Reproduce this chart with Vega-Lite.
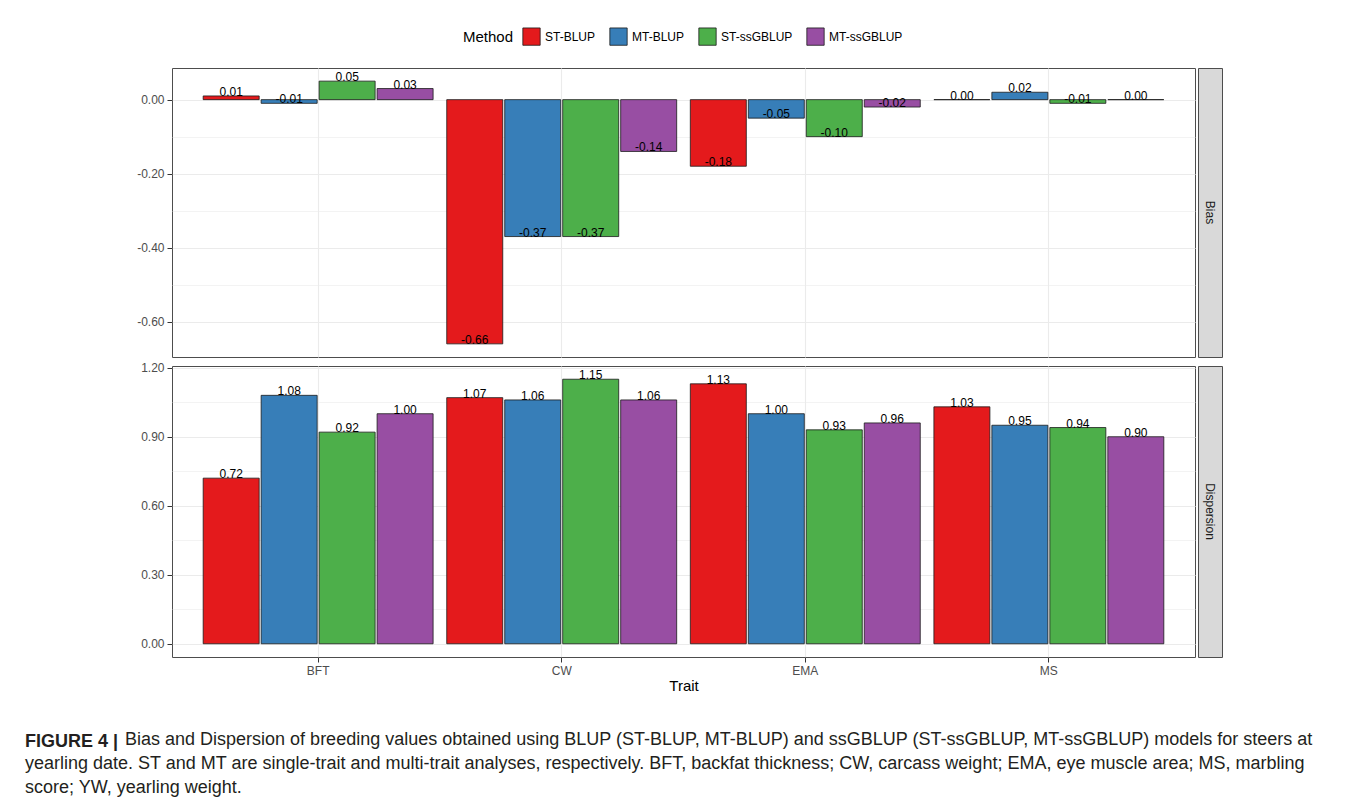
{
  "$schema": "https://vega.github.io/schema/vega-lite/v6.json",
  "padding": {"left": 25, "top": 27, "right": 10, "bottom": 10},
  "background": "white",
  "title": {
    "text": "FIGURE 4 |",
    "subtitle": ["\u200b\u00a0\u00a0\u00a0\u00a0\u00a0\u00a0\u00a0\u00a0\u00a0\u00a0\u00a0\u00a0\u00a0\u00a0\u00a0\u00a0\u00a0\u00a0\u00a0\u00a0Bias and Dispersion of breeding values obtained using BLUP (ST-BLUP, MT-BLUP) and ssGBLUP (ST-ssGBLUP, MT-ssGBLUP) models for steers at", "yearling date. ST and MT are single-trait and multi-trait analyses, respectively. BFT, backfat thickness; CW, carcass weight; EMA, eye muscle area; MS, marbling", "score; YW, yearling weight."],
    "orient": "bottom", "anchor": "start", "frame": "group", "dx": -147, "offset": 39,
    "font": "Liberation Sans", "fontSize": 18, "fontWeight": "bold", "color": "#231f20", "lineHeight": 24,
    "subtitleFont": "Liberation Sans", "subtitleFontSize": 18, "subtitleFontWeight": "normal", "subtitleColor": "#231f20", "subtitleLineHeight": 24, "subtitlePadding": -20
  },
  "datasets": {
    "d": [
      {"Trait": "BFT", "Method": "ST-BLUP", "Metric": "Bias", "Value": 0.01},
      {"Trait": "BFT", "Method": "MT-BLUP", "Metric": "Bias", "Value": -0.01},
      {"Trait": "BFT", "Method": "ST-ssGBLUP", "Metric": "Bias", "Value": 0.05},
      {"Trait": "BFT", "Method": "MT-ssGBLUP", "Metric": "Bias", "Value": 0.03},
      {"Trait": "CW", "Method": "ST-BLUP", "Metric": "Bias", "Value": -0.66},
      {"Trait": "CW", "Method": "MT-BLUP", "Metric": "Bias", "Value": -0.37},
      {"Trait": "CW", "Method": "ST-ssGBLUP", "Metric": "Bias", "Value": -0.37},
      {"Trait": "CW", "Method": "MT-ssGBLUP", "Metric": "Bias", "Value": -0.14},
      {"Trait": "EMA", "Method": "ST-BLUP", "Metric": "Bias", "Value": -0.18},
      {"Trait": "EMA", "Method": "MT-BLUP", "Metric": "Bias", "Value": -0.05},
      {"Trait": "EMA", "Method": "ST-ssGBLUP", "Metric": "Bias", "Value": -0.10},
      {"Trait": "EMA", "Method": "MT-ssGBLUP", "Metric": "Bias", "Value": -0.02},
      {"Trait": "MS", "Method": "ST-BLUP", "Metric": "Bias", "Value": 0.00},
      {"Trait": "MS", "Method": "MT-BLUP", "Metric": "Bias", "Value": 0.02},
      {"Trait": "MS", "Method": "ST-ssGBLUP", "Metric": "Bias", "Value": -0.01},
      {"Trait": "MS", "Method": "MT-ssGBLUP", "Metric": "Bias", "Value": 0.00},
      {"Trait": "BFT", "Method": "ST-BLUP", "Metric": "Dispersion", "Value": 0.72},
      {"Trait": "BFT", "Method": "MT-BLUP", "Metric": "Dispersion", "Value": 1.08},
      {"Trait": "BFT", "Method": "ST-ssGBLUP", "Metric": "Dispersion", "Value": 0.92},
      {"Trait": "BFT", "Method": "MT-ssGBLUP", "Metric": "Dispersion", "Value": 1.00},
      {"Trait": "CW", "Method": "ST-BLUP", "Metric": "Dispersion", "Value": 1.07},
      {"Trait": "CW", "Method": "MT-BLUP", "Metric": "Dispersion", "Value": 1.06},
      {"Trait": "CW", "Method": "ST-ssGBLUP", "Metric": "Dispersion", "Value": 1.15},
      {"Trait": "CW", "Method": "MT-ssGBLUP", "Metric": "Dispersion", "Value": 1.06},
      {"Trait": "EMA", "Method": "ST-BLUP", "Metric": "Dispersion", "Value": 1.13},
      {"Trait": "EMA", "Method": "MT-BLUP", "Metric": "Dispersion", "Value": 1.00},
      {"Trait": "EMA", "Method": "ST-ssGBLUP", "Metric": "Dispersion", "Value": 0.93},
      {"Trait": "EMA", "Method": "MT-ssGBLUP", "Metric": "Dispersion", "Value": 0.96},
      {"Trait": "MS", "Method": "ST-BLUP", "Metric": "Dispersion", "Value": 1.03},
      {"Trait": "MS", "Method": "MT-BLUP", "Metric": "Dispersion", "Value": 0.95},
      {"Trait": "MS", "Method": "ST-ssGBLUP", "Metric": "Dispersion", "Value": 0.94},
      {"Trait": "MS", "Method": "MT-ssGBLUP", "Metric": "Dispersion", "Value": 0.90}
    ]
  },
  "spacing": 3,
  "resolve": {"scale": {"x": "independent", "y": "independent"}},
  "vconcat": [
    {
      "spacing": 1,
      "hconcat": [
        {
          "width": 1023, "height": 289,
          "data": {"name": "d"},
          "transform": [{"filter": "datum.Metric === 'Bias'"}],
          "encoding": {
            "x": {"field": "Trait", "type": "nominal", "sort": ["BFT", "CW", "EMA", "MS"],
                  "scale": {"paddingInner": 0.056, "paddingOuter": 0.128},
                  "axis": {"labels": false, "ticks": false, "domain": false, "title": null, "grid": true, "bandPosition": 0.5, "gridColor": "#ebebeb", "gridWidth": 1.1}},
            "xOffset": {"field": "Method", "type": "nominal", "sort": ["ST-BLUP", "MT-BLUP", "ST-ssGBLUP", "MT-ssGBLUP"],
                        "scale": {"paddingInner": 0.034, "paddingOuter": 0}},
            "y": {"field": "Value", "type": "quantitative",
                  "scale": {"domain": [-0.6955, 0.0855], "nice": false, "zero": false},
                  "axis": {"title": null, "values": [-0.6, -0.5, -0.4, -0.3, -0.2, -0.1, 0],
                           "labelExpr": "abs(datum.value*5 - round(datum.value*5)) > 0.01 ? '' : replace(format(datum.value, '.2f'), '\u2212', '-')",
                           "gridColor": "#ebebeb",
                           "gridWidth": {"condition": {"test": "abs(datum.value*5 - round(datum.value*5)) > 0.01", "value": 0.6}, "value": 1.1},
                           "tickOpacity": {"condition": {"test": "abs(datum.value*5 - round(datum.value*5)) > 0.01", "value": 0}, "value": 1}}}
          },
          "layer": [
            {"mark": {"type": "bar", "stroke": "#1a1a1a", "strokeWidth": 0.8},
             "encoding": {"y2": {"datum": 0},
                          "color": {"field": "Method", "type": "nominal", "sort": ["ST-BLUP", "MT-BLUP", "ST-ssGBLUP", "MT-ssGBLUP"],
                                    "scale": {"domain": ["ST-BLUP", "MT-BLUP", "ST-ssGBLUP", "MT-ssGBLUP"], "range": ["#E41A1C", "#377EB8", "#4DAF4A", "#984EA3"]},
                                    "legend": {"orient": "none", "direction": "horizontal", "legendX": 291, "legendY": -41, "title": "Method", "titleOrient": "left"}}}},
            {"mark": {"type": "text", "baseline": "alphabetic", "fontSize": 12, "color": "black", "font": "Liberation Sans",
                      "text": {"expr": "replace(format(datum.Value, '.2f'), '\u2212', '-')"}}}
          ]
        },
        {
          "width": 24, "height": 289,
          "data": {"values": [{"label": "Bias"}]},
          "view": {"fill": "#d9d9d9", "stroke": "#4d4d4d"},
          "mark": {"type": "text", "angle": 90, "fontSize": 12, "color": "#1a1a1a", "font": "Liberation Sans"},
          "encoding": {"text": {"field": "label", "type": "nominal"}}
        }
      ]
    },
    {
      "spacing": 1,
      "hconcat": [
        {
          "width": 1023, "height": 291,
          "data": {"name": "d"},
          "transform": [{"filter": "datum.Metric === 'Dispersion'"}],
          "encoding": {
            "x": {"field": "Trait", "type": "nominal", "sort": ["BFT", "CW", "EMA", "MS"],
                  "scale": {"paddingInner": 0.056, "paddingOuter": 0.128},
                  "axis": {"title": "Trait", "labelAngle": 0, "domain": false, "grid": true, "bandPosition": 0.5, "gridColor": "#ebebeb", "gridWidth": 1.1, "titlePadding": 2}},
            "xOffset": {"field": "Method", "type": "nominal", "sort": ["ST-BLUP", "MT-BLUP", "ST-ssGBLUP", "MT-ssGBLUP"],
                        "scale": {"paddingInner": 0.034, "paddingOuter": 0}},
            "y": {"field": "Value", "type": "quantitative",
                  "scale": {"domain": [-0.0575, 1.2075], "nice": false, "zero": false},
                  "axis": {"title": null, "values": [0, 0.15, 0.3, 0.45, 0.6, 0.75, 0.9, 1.05, 1.2],
                           "labelExpr": "abs(datum.value/0.3 - round(datum.value/0.3)) > 0.01 ? '' : format(datum.value, '.2f')",
                           "gridColor": "#ebebeb",
                           "gridWidth": {"condition": {"test": "abs(datum.value/0.3 - round(datum.value/0.3)) > 0.01", "value": 0.6}, "value": 1.1},
                           "tickOpacity": {"condition": {"test": "abs(datum.value/0.3 - round(datum.value/0.3)) > 0.01", "value": 0}, "value": 1}}}
          },
          "layer": [
            {"mark": {"type": "bar", "stroke": "#1a1a1a", "strokeWidth": 0.8},
             "encoding": {"y2": {"datum": 0},
                          "color": {"field": "Method", "type": "nominal", "sort": ["ST-BLUP", "MT-BLUP", "ST-ssGBLUP", "MT-ssGBLUP"]}}},
            {"mark": {"type": "text", "baseline": "alphabetic", "fontSize": 12, "color": "black", "font": "Liberation Sans",
                      "text": {"expr": "format(datum.Value, '.2f')"}}}
          ]
        },
        {
          "width": 24, "height": 291,
          "data": {"values": [{"label": "Dispersion"}]},
          "view": {"fill": "#d9d9d9", "stroke": "#4d4d4d"},
          "mark": {"type": "text", "angle": 90, "fontSize": 12, "color": "#1a1a1a", "font": "Liberation Sans"},
          "encoding": {"text": {"field": "label", "type": "nominal"}}
        }
      ]
    }
  ],
  "config": {
    "font": "Liberation Sans",
    "view": {"stroke": "#4d4d4d", "strokeWidth": 1},
    "axis": {"labelFont": "Liberation Sans", "labelFontSize": 12, "labelColor": "#4d4d4d", "tickColor": "#333333", "tickSize": 5, "labelPadding": 3,
             "titleFont": "Liberation Sans", "titleFontSize": 15, "titleColor": "black", "titleFontWeight": "normal", "titlePadding": 4},
    "axisY": {"domain": false},
    "legend": {"labelFont": "Liberation Sans", "labelFontSize": 12, "labelColor": "black", "titleFont": "Liberation Sans", "titleFontSize": 15, "titleFontWeight": "normal", "titleColor": "black",
               "symbolType": "square", "symbolSize": 300, "symbolStrokeColor": "#1a1a1a", "symbolStrokeWidth": 0.8, "symbolOpacity": 1, "columnPadding": 12, "titlePadding": 8}
  }
}
